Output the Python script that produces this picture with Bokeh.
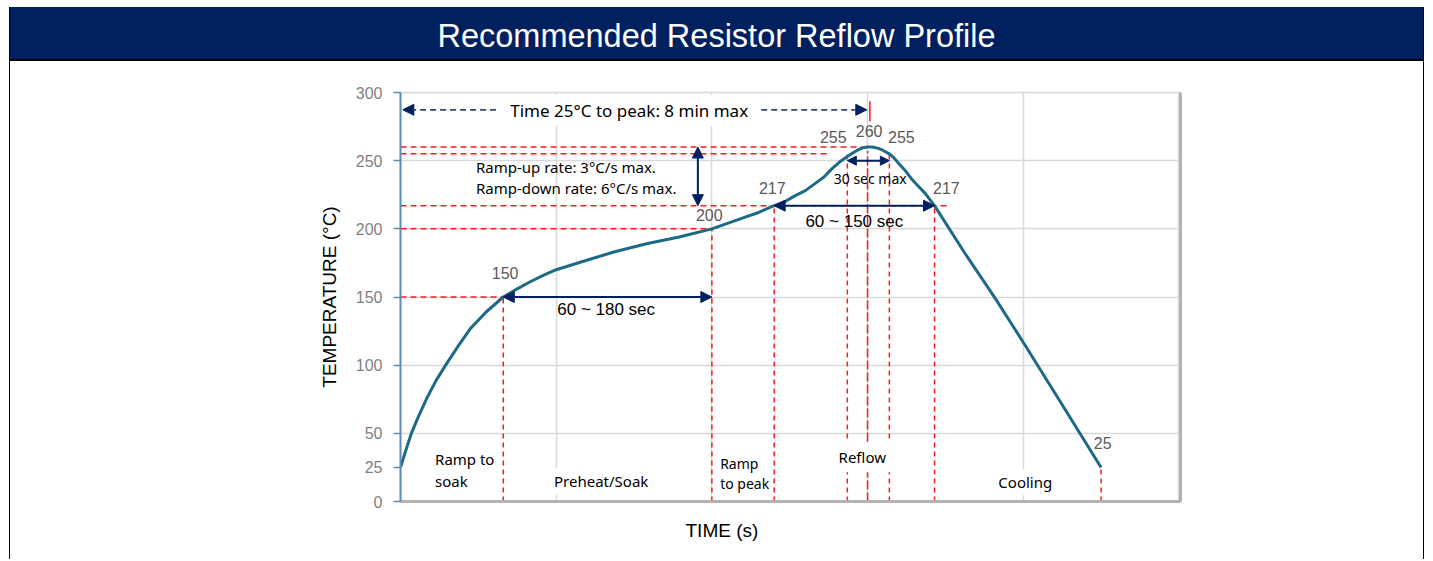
from bokeh.plotting import figure
from bokeh.models import Range1d, FixedTicker, LinearAxis, Title, Arrow, NormalHead, Label
from bokeh.layouts import column
from bokeh.embed import file_html
from bokeh.resources import INLINE
from bokeh.core.properties import value

# ---------------- data ----------------
TITLE = "Recommended Resistor Reflow Profile"
profile_t = [0, 3, 7, 11, 17, 23, 29, 37, 45, 55, 66, 75, 83, 92, 100, 117, 137, 158, 179,
             200, 210, 220, 230, 240, 247, 253, 260, 266, 272, 277, 282, 287, 291, 294,
             297, 300, 303, 307, 310, 314, 317, 320, 324, 328, 332, 337, 343,
             362, 382, 401, 425, 450]
profile_T = [25, 36, 50, 61, 76, 89, 100, 114, 127, 139, 150, 156, 161, 166, 170, 176, 183, 189, 194,
             200, 204, 208, 212, 217, 220, 224, 228, 233, 238, 244, 249, 253, 256, 258,
             259.5, 260, 260, 259, 257.5, 255, 252, 248, 243, 237, 232, 226, 217,
             183, 149, 115, 71, 25]

key_t = [66, 200, 240, 287, 300, 314, 343, 450]
key_T = [150, 200, 217, 255, 260, 255, 217, 25]

y_ticks = [0, 25, 50, 100, 150, 200, 250, 300]
y_grid = [0, 50, 100, 150, 200, 250, 300]
x_grid = [0, 100, 200, 300, 400, 500]

phase_labels = ["Ramp to", "soak", "Preheat/Soak", "Ramp", "to peak", "Reflow", "Cooling"]
span_labels = ["60 ~ 180 sec", "60 ~ 150 sec", "30 sec max"]
rate_labels = ["Ramp-up rate: 3°C/s max.", "Ramp-down rate: 6°C/s max."]
time_label = "Time 25°C to peak: 8 min max"

NAVY = "#002060"
RED = "#FF1A1A"
CURVE = "#1D6A86"
SANS = "Liberation Sans"
HUM = "Noto Sans"

W = 1413
BL, BR = 390, 243

# ---------------- title bar ----------------
tp = figure(width=W, height=54, x_range=Range1d(0, 780), y_range=Range1d(0, 54),
            toolbar_location=None, output_backend="svg",
            min_border_left=BL, min_border_right=BR, min_border_top=0, min_border_bottom=0,
            x_axis_location=None, y_axis_location=None,
            background_fill_color=NAVY, border_fill_color=NAVY, outline_line_color=None,
            styles={"background-color": NAVY, "border-bottom": "2px solid black"})
tp.grid.visible = False
tp.text(x=[316], y=[26], text=[TITLE], text_align="center", text_baseline="middle",
        text_color="white", text_font=value(SANS), text_font_size="32.5px")

# ---------------- main chart ----------------
p = figure(width=W, height=498, x_range=Range1d(0, 501), y_range=Range1d(0, 300),
           toolbar_location=None, output_backend="svg",
           min_border_left=BL, min_border_right=BR, min_border_top=31, min_border_bottom=58,
           background_fill_color="white", border_fill_color="white",
           outline_line_color="#D9D9D9", outline_line_width=1.5)

p.yaxis.ticker = FixedTicker(ticks=y_ticks)
p.yaxis.axis_line_color = "#5B8DB8"
p.yaxis.axis_line_width = 2
p.yaxis.major_tick_line_color = "#5B8DB8"
p.yaxis.major_tick_line_width = 1.5
p.yaxis.major_tick_out = 7
p.yaxis.major_tick_in = 0
p.yaxis.minor_tick_line_color = None
p.yaxis.major_label_text_color = "#7F7F7F"
p.yaxis.major_label_text_font = SANS
p.yaxis.major_label_text_font_size = "16px"
p.yaxis.major_label_standoff = 11
p.yaxis.axis_label = "TEMPERATURE (°C)"
p.yaxis.axis_label_text_font = SANS
p.yaxis.axis_label_text_font_size = "19px"
p.yaxis.axis_label_text_font_style = "normal"
p.yaxis.axis_label_text_color = "black"
p.yaxis.axis_label_standoff = 13

p.xaxis.ticker = FixedTicker(ticks=[])
p.xaxis.axis_line_color = "#B3B3B3"
p.xaxis.axis_line_width = 3
p.xaxis.major_tick_out = 0
p.xaxis.major_label_standoff = 0
p.xaxis.minor_tick_line_color = None

shadow = LinearAxis(ticker=FixedTicker(ticks=[]), axis_line_color="#B3B3B3", axis_line_width=3,
                    major_tick_out=0, minor_tick_line_color=None, major_label_standoff=0)
p.add_layout(shadow, "right")

p.xgrid.ticker = FixedTicker(ticks=x_grid)
p.ygrid.ticker = FixedTicker(ticks=y_grid)
p.grid.grid_line_color = "#D9D9D9"
p.grid.grid_line_width = 1.5

p.add_layout(Title(text="TIME (s)", align="left", offset=285, text_font=SANS,
                   text_font_size="19px", text_font_style="normal", text_color="black",
                   standoff=33), "below")

# red dashed guide lines (horizontal)
h_ext = {150: 66, 200: 200, 217: 352, 255: 276, 260: 296}
for T, tend in h_ext.items():
    p.line([0, tend], [T, T], line_color=RED, line_width=1.5, line_dash="6 4")
# vertical guides
p.line([0, 0], [0, profile_T[0]], line_color="#F08080", line_width=1.5, line_dash="5 4")
for t, T in zip(key_t, key_T):
    top = 257 if t == 300 else T
    dash = "9 3" if t == 300 else "5 4"
    p.line([t, t], [0, top], line_color=RED, line_width=1.5, line_dash=dash)
p.line([301.5, 301.5], [279, 293.5], line_color=RED, line_width=1.5)

# profile curve
p.line(profile_t, profile_T, line_color=CURVE, line_width=3, line_join="round")

# arrows
def dbl(x0, y0, x1, y1, size=11):
    p.add_layout(Arrow(start=NormalHead(size=size, fill_color=NAVY, line_color=NAVY),
                       end=NormalHead(size=size, fill_color=NAVY, line_color=NAVY),
                       x_start=x0, y_start=y0, x_end=x1, y_end=y1,
                       line_color=NAVY, line_width=2))

dbl(key_t[0], key_T[0], key_t[1], key_T[0])
dbl(key_t[2], key_T[2], key_t[6], key_T[6])
dbl(key_t[3], 250, key_t[5], 250, size=9)
dbl(191, 260, 191, 217)

p.add_layout(Arrow(end=NormalHead(size=11, fill_color=NAVY, line_color=NAVY),
                   x_start=61.4, y_start=287.3, x_end=1.5, y_end=287.3,
                   line_color="#34477A", line_width=1.8, line_dash="6 4"))
p.add_layout(Arrow(end=NormalHead(size=11, fill_color=NAVY, line_color=NAVY),
                   x_start=231.7, y_start=287.3, x_end=299.5, y_end=287.3,
                   line_color="#34477A", line_width=1.8, line_dash="6 4"))

# texts
def lab(x, y, text, font=SANS, size="16px", color="black", align="center", bg=None, pad=0):
    kw = dict(x=x, y=y, text=text, text_font=font, text_font_size=size, text_color=color,
              text_align=align, text_baseline="middle")
    if bg is not None:
        kw.update(background_fill_color=bg, padding=pad)
    p.add_layout(Label(**kw))

GRAY = "#595959"
val_pos = [(67.2, 167.5), (198.3, 209.8), (238.8, 229.6), (278.0, 267.0),
           (301.0, 271.4), (321.7, 267.0), (350.6, 229.6), (451.0, 42.7)]
for (x, y), T in zip(val_pos, key_T):
    lab(x, y, str(T), size="16px", color=GRAY)

lab(146.9, 286.8, time_label, font=HUM, size="17px", bg="white", pad=4)
lab(48.5, 245.0, rate_labels[0], font=HUM, size="15px", align="left")
lab(48.5, 229.7, rate_labels[1], font=HUM, size="15px", align="left")
lab(132.1, 141.0, span_labels[0], size="17px")
lab(291.5, 205.4, span_labels[1], size="17px")
lab(301.7, 237.0, span_labels[2], font=HUM, size="14px")

lab(22.2, 31.0, phase_labels[0], font=HUM, size="15px", align="left")
lab(22.2, 14.9, phase_labels[1], font=HUM, size="15px", align="left")
lab(128.9, 14.9, phase_labels[2], font=HUM, size="15px", bg="white", pad=3)
lab(205.3, 28.1, phase_labels[3], font=HUM, size="14px", align="left")
lab(205.3, 13.4, phase_labels[4], font=HUM, size="14px", align="left")
lab(296.6, 32.5, phase_labels[5], font=HUM, size="15px", bg="white", pad=5)
lab(401.3, 14.2, phase_labels[6], font=HUM, size="15px", bg="white", pad=3)

layout = column(tp, p, styles={"border-left": "1px solid black", "border-right": "1px solid black",
                               "margin-left": "9px", "margin-top": "7px"})

open("out.html", "w").write(file_html(layout, INLINE))
